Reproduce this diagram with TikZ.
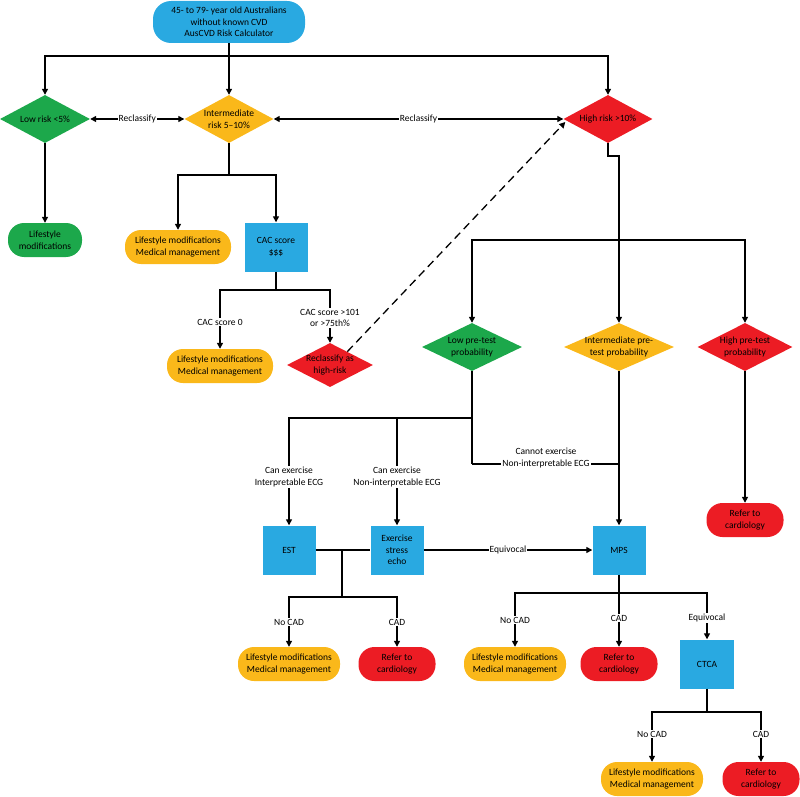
\documentclass[tikz,border=0pt]{standalone}
\usepackage{fontspec}
\setmainfont{Carlito}
\usetikzlibrary{shapes.geometric,arrows.meta,calc}
\definecolor{cb}{HTML}{29A9E1}
\definecolor{cg}{HTML}{1CA84B}
\definecolor{cy}{HTML}{FAB81A}
\definecolor{cr}{HTML}{EC1C24}
\begin{document}
\begin{tikzpicture}[x=1pt,y=-1pt,
  every node/.style={font=\fontsize{9.5}{11.5}\selectfont,align=center},
  ln/.style={line width=1.3pt,black},
  arr/.style={ln,-{Triangle[length=6pt,width=6pt]}},
  darr/.style={ln,{Triangle[length=6pt,width=6pt]}-{Triangle[length=6pt,width=6pt]}},
  rnd/.style={rounded corners=16pt,minimum height=34pt,inner sep=1pt},
  box/.style={fill=cb,minimum width=53pt,minimum height=49pt,inner sep=1pt},
  dia/.style={diamond,inner sep=0pt,minimum height=48pt},
  lbl/.style={fill=white,inner sep=1pt}]
\useasboundingbox (0,0) rectangle (800,797);
% top
\node[fill=cb,rounded corners=18pt,minimum width=152pt,minimum height=42pt,inner sep=1pt] (top) at (229,22) {45- to 79- year old Australians\\without known CVD\\AusCVD Risk Calculator};
\node[dia,fill=cg,minimum width=90pt,label={[align=center]center:Low risk <5\%}] (low) at (45,119) {};
\node[dia,fill=cy,minimum width=89pt,label={[align=center]center:Intermediate\\risk 5–10\%}] (int) at (229,119) {};
\node[dia,fill=cr,minimum width=89pt,label={[align=center]center:High risk >10\%}] (high) at (608,119) {};
\coordinate (t1) at (229,56);
\draw[ln] (top) -- (t1);
\draw[arr] (t1) -| (low);
\draw[arr] (t1) -- (int);
\draw[arr] (t1) -| (high);
\draw[darr] (low) -- node[lbl]{Reclassify} (int);
\draw[darr] (int) -- node[lbl]{Reclassify} (high);
% low branch
\node[rnd,fill=cg,minimum width=74pt] (lowlm) at (45,240) {Lifestyle\\modifications};
\draw[arr] (low) -- (lowlm);
% intermediate branch
\node[rnd,fill=cy,minimum width=106pt] (intlm) at (178,247) {Lifestyle modifications\\Medical management};
\node[box,minimum width=63pt] (cac) at (276,247) {CAC score\\\$\$\$};
\coordinate (i1) at (229,175);
\draw[ln] (int) -- (i1);
\draw[arr] (i1) -| (intlm);
\draw[arr] (i1) -| (cac);
\node[rnd,fill=cy,minimum width=106pt] (caclm) at (220,366) {Lifestyle modifications\\Medical management};
\node[dia,fill=cr,minimum width=86pt,minimum height=44pt,label={[align=center]center:Reclassify as\\high-risk}] (rc) at (330,365) {};
\coordinate (c1) at (276,290);
\draw[ln] (cac) -- (c1);
\draw[arr] (c1) -| (caclm);
\draw[arr] (c1) -| (rc);
\node[lbl] at (220,322) {CAC score 0};
\node[lbl] at (330,318) {CAC score >101\\or >75th\%};
\coordinate (rcs) at ($(rc.north)!0.4!(rc.east)$);
\draw[ln,dash pattern=on 8pt off 5pt,-{Triangle[length=6pt,width=6pt]}] (rcs) -- ($(high.west)+(2,3)$);
% high branch
\coordinate (h1) at (608,156);
\coordinate (h2) at (619,156);
\coordinate (h3) at (619,240);
\node[dia,fill=cg,minimum width=100pt,label={[align=center]center:Low pre-test\\probability}] (lpt) at (472,347) {};
\node[dia,fill=cy,minimum width=110pt,label={[align=center]center:Intermediate pre-\\test probability}] (ipt) at (619,347) {};
\node[dia,fill=cr,minimum width=95pt,label={[align=center]center:High pre-test\\probability}] (hpt) at (745,347) {};
\draw[ln] (high) -- (h1) -- (h2) -- (h3);
\draw[arr] (h3) -| (lpt);
\draw[arr] (h3) -- (ipt);
\draw[arr] (h3) -| (hpt);
\node[rnd,fill=cr,minimum width=77pt] (hrefer) at (745,520) {Refer to\\cardiology};
\draw[arr] (hpt) -- (hrefer);
% low pre-test
\node[box] (est) at (289,550) {EST};
\node[box] (echo) at (397,550) {Exercise\\stress\\echo};
\node[box] (mps) at (619,550) {MPS};
\coordinate (l1) at (472,418);
\coordinate (l2) at (472,464);
\draw[ln] (lpt) -- (l1) -- (l2);
\draw[arr] (l1) -| (est);
\draw[arr] (l1) -| (echo);
\draw[ln] (l2) -- (l2 -| mps);
\draw[arr] (ipt) -- (mps);
\node[lbl] at (289,477) {Can exercise\\Interpretable ECG};
\node[lbl] at (397,477) {Can exercise\\Non-interpretable ECG};
\node[lbl] at (546,458) {Cannot exercise\\Non-interpretable ECG};
\draw[arr] (echo) -- node[lbl]{Equivocal} (mps);
% EST/echo results
\coordinate (e1) at (342,550);
\coordinate (e2) at (342,597);
\draw[ln] (est) -- (echo);
\draw[ln] (e1) -- (e2);
\node[rnd,fill=cy,minimum width=102pt] (elm) at (289,664) {Lifestyle modifications\\Medical management};
\node[rnd,fill=cr,minimum width=77pt] (eref) at (397,664) {Refer to\\cardiology};
\draw[arr] (e2) -| (elm);
\draw[arr] (e2) -| (eref);
\node[lbl] at (289,622) {No CAD};
\node[lbl] at (397,622) {CAD};
% MPS results
\coordinate (m1) at (619,593);
\node[rnd,fill=cy,minimum width=102pt] (mlm) at (515,664) {Lifestyle modifications\\Medical management};
\node[rnd,fill=cr,minimum width=77pt] (mref) at (619,664) {Refer to\\cardiology};
\node[box,minimum width=54pt] (ctca) at (707,664) {CTCA};
\draw[ln] (mps) -- (m1);
\draw[arr] (m1) -| (mlm);
\draw[arr] (m1) -- (mref);
\draw[arr] (m1) -| (ctca);
\node[lbl] at (515,620) {No CAD};
\node[lbl] at (619,618) {CAD};
\node[lbl] at (707,618) {Equivocal};
% CTCA results
\coordinate (k1) at (707,712);
\node[rnd,fill=cy,minimum width=102pt] (klm) at (652,779) {Lifestyle modifications\\Medical management};
\node[rnd,fill=cr,minimum width=77pt] (kref) at (761,779) {Refer to\\cardiology};
\draw[ln] (ctca) -- (k1);
\draw[arr] (k1) -| (klm);
\draw[arr] (k1) -| (kref);
\node[lbl] at (652,734) {No CAD};
\node[lbl] at (761,734) {CAD};
\end{tikzpicture}
\end{document}
